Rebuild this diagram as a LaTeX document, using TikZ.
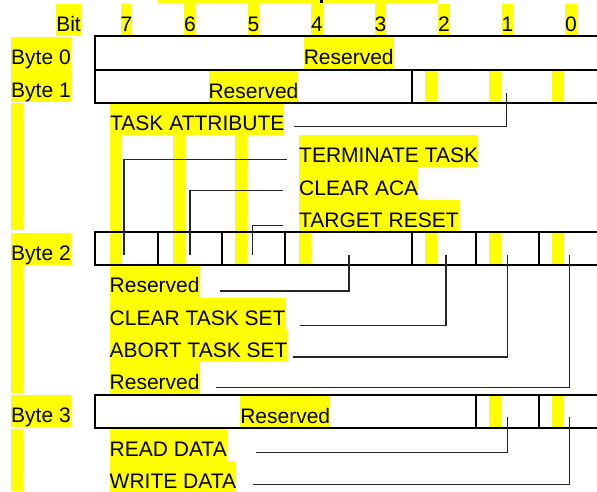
\documentclass[tikz,border=0pt]{standalone}
\usepackage{fontspec}
\setmainfont{Liberation Sans}
\usepackage{xcolor}
\usepackage{tikz}
\usetikzlibrary{positioning}
\definecolor{HiYellow}{HTML}{FFFF00}
\tikzset{
  hl/.style={fill=HiYellow, inner sep=0pt, text height=27.5pt, text depth=4.5pt},
  tbl/.style={line width=2pt},
  leader/.style={line width=1.2pt, draw=black!85}
}

\begin{document}
\begin{tikzpicture}[x=1pt, y=-1pt, font=\fontsize{21}{25}\selectfont]
  \useasboundingbox (0,0) rectangle (597,491);
  % empty highlighted lines
  \fill[HiYellow] (158,0) rectangle (438,3.3);
  \fill (320,0) rectangle (323,2.5);
  \foreach \ya/\yb in {103/230, 265/393, 429/491}
    \fill[HiYellow] (11,\ya) rectangle (23,\yb);
  \foreach \x in {110,173.3,235.3}
    \fill[HiYellow] (\x,135) rectangle +(11.7,129.5);
  \fill[HiYellow] (299,231) rectangle +(11.7,33);
  \foreach \x in {425,489.3,552.3} {
    \fill[HiYellow] (\x,71) rectangle +(11.7,31);
    \fill[HiYellow] (\x,233) rectangle +(11.7,31);
  }
  \foreach \x in {489.3,552.3}
    \fill[HiYellow] (\x,396) rectangle +(11.7,31);

  % header and row labels
  \node[hl, anchor=north east] (bitlbl) at (81,4) {Bit};
  \foreach \b [count=\i from 0] in {7,...,0}
    \node[hl, anchor=north] (bit\b) at ({126.4+63.5*\i},4) {\b};
  \node[hl, anchor=north west] (byte0) at (11,37) {Byte 0};
  \node[hl, below=0pt of byte0] (byte1) {Byte 1};
  \node[hl, anchor=north west] (byte2) at (11,233) {Byte 2};
  \node[hl, anchor=north west] (byte3) at (11,395) {Byte 3};

  % cell texts
  \node[hl, anchor=north] (resv0) at (348.7,37) {Reserved};
  \node[hl, anchor=north] (resv1) at (253.5,70.5) {Reserved};
  \node[hl, anchor=north] (resv3) at (285.2,396) {Reserved};

  % field names
  \node[hl, anchor=north west] (taskattr) at (110,103) {TASK ATTRIBUTE};
  \node[hl, anchor=north west] (terminate) at (299,135) {TERMINATE TASK};
  \node[hl, below=0pt of terminate.south west, anchor=north west] (clearaca) {CLEAR ACA};
  \node[hl, below=0pt of clearaca.south west, anchor=north west] (tgtreset) {TARGET RESET};
  \node[hl, anchor=north west] (resva) at (109.5,265) {Reserved};
  \node[hl, below=0pt of resva.south west, anchor=north west] (clrtaskset) {CLEAR TASK SET};
  \node[hl, below=0pt of clrtaskset.south west, anchor=north west] (abttaskset) {ABORT TASK SET};
  \node[hl, below=0pt of abttaskset.south west, anchor=north west] (resvb) {Reserved};
  \node[hl, anchor=north west] (readdata) at (109.5,428.5) {READ DATA};
  \node[hl, below=0pt of readdata.south west, anchor=north west] (writedata) {WRITE DATA};

  % table
  \draw[tbl] (94.7,36) rectangle (603,103);
  \draw[tbl] (94.7,70) -- (603,70) (412.2,70) -- (412.2,103);
  \draw[tbl] (94.7,232) rectangle (603,264.5);
  \foreach \x in {158.2,221.7,285.2,412.2,475.7,539.2}
    \draw[tbl] (\x,232) -- (\x,264.5);
  \draw[tbl] (94.7,395) rectangle (603,428);
  \foreach \x in {475.7,539.2}
    \draw[tbl] (\x,395) -- (\x,428);

  % bit positions
  \coordinate (b1c1) at (506.7,92.7);
  \coordinate (b2c7) at (124,255);
  \coordinate (b2c6) at (190,255);
  \coordinate (b2c5) at (252.5,255);
  \coordinate (b2c43) at (349,255);
  \coordinate (b2c2) at (446,255);
  \coordinate (b2c1) at (507.3,255);
  \coordinate (b2c0) at (569.3,255);
  \coordinate (b3c1) at (507.3,417.3);
  \coordinate (b3c0) at (569.3,417.3);

  % leaders
  \draw[leader] (taskattr.east) ++(9,7) -| (b1c1);
  \draw[leader] (terminate.west) ++(-12,8.3) -| (b2c7);
  \draw[leader] (clearaca.west) ++(-16,7) -| (b2c6);
  \draw[leader] (tgtreset.west) ++(-16,9.3) -| (b2c5);
  \draw[leader] (resva.east) ++(20,9.7) -| (b2c43);
  \draw[leader] (clrtaskset.east) ++(14,12) -| (b2c2);
  \draw[leader] (abttaskset.east) ++(5,11) -| (b2c1);
  \draw[leader] (resvb.east) ++(16,9) -| (b2c0);
  \draw[leader] (readdata.east) ++(29,8) -| (b3c1);
  \draw[leader] (writedata.east) ++(17,7) -| (b3c0);
\end{tikzpicture}
\end{document}
